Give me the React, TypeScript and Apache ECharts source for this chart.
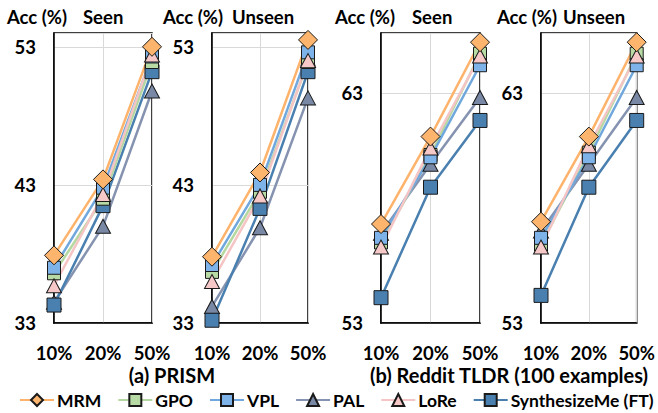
import React, { useEffect, useRef } from "react";
import * as echarts from "echarts";

const categories = ["10%", "20%", "50%"];
const seriesNames = ["MRM", "GPO", "VPL", "PAL", "LoRe", "SynthesizeMe (FT)"];

// PRISM – Seen
const prismSeenMRM = [37.9, 43.4, 53.0];
const prismSeenGPO = [36.6, 42.0, 51.9];
const prismSeenVPL = [37.0, 42.8, 52.3];
const prismSeenPAL = [34.5, 40.0, 49.8];
const prismSeenLoRe = [35.7, 42.3, 52.4];
const prismSeenSynth = [34.3, 41.5, 51.2];

// PRISM – Unseen
const prismUnseenMRM = [37.8, 43.9, 53.5];
const prismUnseenGPO = [36.7, 42.5, 51.9];
const prismUnseenVPL = [37.2, 43.0, 52.6];
const prismUnseenPAL = [34.2, 39.9, 49.3];
const prismUnseenLoRe = [36.0, 42.2, 52.0];
const prismUnseenSynth = [33.2, 41.3, 51.2];

// Reddit TLDR – Seen
const redditSeenMRM = [57.3, 61.1, 65.2];
const redditSeenGPO = [56.5, 60.3, 64.7];
const redditSeenVPL = [56.7, 60.2, 64.2];
const redditSeenPAL = [56.9, 59.9, 62.8];
const redditSeenLoRe = [56.3, 60.6, 64.6];
const redditSeenSynth = [54.1, 58.9, 61.8];

// Reddit TLDR – Unseen
const redditUnseenMRM = [57.4, 61.1, 65.2];
const redditUnseenGPO = [56.4, 60.4, 64.7];
const redditUnseenVPL = [56.7, 60.2, 64.2];
const redditUnseenPAL = [57.0, 59.9, 62.8];
const redditUnseenLoRe = [56.3, 60.7, 64.6];
const redditUnseenSynth = [54.2, 58.9, 61.8];

const panelTitles = ["Seen", "Unseen", "Seen", "Unseen"];
const yMins = [33, 33, 53, 53];
const yMaxs = [54, 54, 65.6, 65.6];

const FONT = "Lato";

const styles: Record<string, any> = {
  MRM: { symbol: "diamond", size: [19, 19], fill: "#FDB46C", line: "#FDB36B" },
  GPO: { symbol: "rect", size: [13, 13], fill: "#B8DBA6", line: "#B5D8A1" },
  VPL: { symbol: "rect", size: [13, 13], fill: "#7DB3E8", line: "#70A8DD" },
  PAL: { symbol: "triangle", size: [15, 14], fill: "#7888A5", line: "#8593B0" },
  LoRe: { symbol: "triangle", size: [15, 14], fill: "#F6C8C8", line: "#F5C5C5" },
  "SynthesizeMe (FT)": { symbol: "rect", size: [14, 14], fill: "#4A80B0", line: "#4A80B0" },
};

// draw order (later on top)
const drawOrder = ["PAL", "SynthesizeMe (FT)", "GPO", "VPL", "LoRe", "MRM"];

export default function App() {
  const ref = useRef<HTMLDivElement>(null);
  useEffect(() => {
    if (!ref.current) return;
    const chart = echarts.init(ref.current, null, { renderer: "svg" });

    const panels: Record<string, number[]>[] = [
      { MRM: prismSeenMRM, GPO: prismSeenGPO, VPL: prismSeenVPL, PAL: prismSeenPAL, LoRe: prismSeenLoRe, "SynthesizeMe (FT)": prismSeenSynth },
      { MRM: prismUnseenMRM, GPO: prismUnseenGPO, VPL: prismUnseenVPL, PAL: prismUnseenPAL, LoRe: prismUnseenLoRe, "SynthesizeMe (FT)": prismUnseenSynth },
      { MRM: redditSeenMRM, GPO: redditSeenGPO, VPL: redditSeenVPL, PAL: redditSeenPAL, LoRe: redditSeenLoRe, "SynthesizeMe (FT)": redditSeenSynth },
      { MRM: redditUnseenMRM, GPO: redditUnseenGPO, VPL: redditUnseenVPL, PAL: redditUnseenPAL, LoRe: redditUnseenLoRe, "SynthesizeMe (FT)": redditUnseenSynth },
    ];

    const gridLefts = [54, 212, 381, 541];
    const gridWidths = [98, 96, 99, 99];

    const grids = gridLefts.map((l, i) => ({
      left: l,
      width: gridWidths[i],
      top: 33,
      height: 290,
      show: true,
      borderColor: "#000",
      borderWidth: 1.5,
      containLabel: false,
    }));

    const xAxes = gridLefts.map((_, i) => ({
      type: "category",
      gridIndex: i,
      data: categories,
      boundaryGap: false,
      axisLine: { show: true, lineStyle: { color: "#000", width: 1.5 } },
      axisTick: { show: false },
      axisLabel: { fontFamily: FONT, fontWeight: "bold", fontSize: 18.5, color: "#000", margin: 20 },
      splitLine: { show: true, lineStyle: { color: "#d9d9d9", width: 1 } },
    }));

    const yAxes = gridLefts.map((_, i) => ({
      type: "value",
      gridIndex: i,
      min: yMins[i],
      max: yMaxs[i],
      interval: 10,
      axisLine: { show: true, lineStyle: { color: "#000", width: 1.5 } },
      axisTick: { show: false },
      axisLabel: {
        fontFamily: FONT,
        fontWeight: "bold",
        fontSize: 18.5,
        color: "#000",
        margin: 18,
        showMaxLabel: false,
      },
      splitLine: { show: true, lineStyle: { color: "#d9d9d9", width: 1 } },
    }));

    const series: any[] = [];
    panels.forEach((p, i) => {
      drawOrder.forEach((name) => {
        const s = styles[name];
        series.push({
          type: "line",
          name,
          xAxisIndex: i,
          yAxisIndex: i,
          data: p[name],
          symbol: s.symbol,
          symbolSize: s.size,
          clip: false,
          lineStyle: { color: s.line, width: 2.5 },
          itemStyle: { color: s.fill, borderColor: "#1a1a1a", borderWidth: 1 },
          emphasis: { disabled: true },
        });
      });
    });

    const graphics: any[] = [];
    const accX = [7, 163, 335, 497];
    const subX = [83, 232, 412, 563];
    accX.forEach((x, i) => {
      graphics.push({
        type: "text",
        x,
        y: 17,
        style: { text: "Acc (%)", font: `bold 18.5px ${FONT}`, fill: "#000", textAlign: "left", textVerticalAlign: "middle", align: "left", verticalAlign: "middle" },
      });
      graphics.push({
        type: "text",
        x: subX[i],
        y: 17,
        style: { text: panelTitles[i], font: `bold 18.5px ${FONT}`, fill: "#000", textAlign: "left", textVerticalAlign: "middle", align: "left", verticalAlign: "middle" },
      });
    });
    graphics.push({
      type: "text",
      x: 172,
      y: 375,
      style: { text: "(a) PRISM", font: `bold 20px ${FONT}`, fill: "#000", textAlign: "center", textVerticalAlign: "middle", align: "center", verticalAlign: "middle" },
    });
    graphics.push({
      type: "text",
      x: 509,
      y: 375,
      style: { text: "(b) Reddit TLDR (100 examples)", font: `bold 20px ${FONT}`, fill: "#000", textAlign: "center", textVerticalAlign: "middle", align: "center", verticalAlign: "middle" },
    });

    chart.setOption({
      animation: false,
      backgroundColor: "#fff",
      grid: grids,
      xAxis: xAxes,
      yAxis: yAxes,
      legend: {
        data: seriesNames,
        left: 19,
        top: 391,
        itemWidth: 34,
        itemHeight: 15,
        itemGap: 16,
        padding: 0,
        textStyle: { fontFamily: FONT, fontWeight: "bold", fontSize: 17.5, color: "#000", padding: [0, 0, 0, -2] },
      },
      graphic: graphics,
      series,
    });
    return () => chart.dispose();
  }, []);
  return <div ref={ref} style={{ position: "fixed", left: 0, top: 0, width: 658, height: 413 }} />;
}
